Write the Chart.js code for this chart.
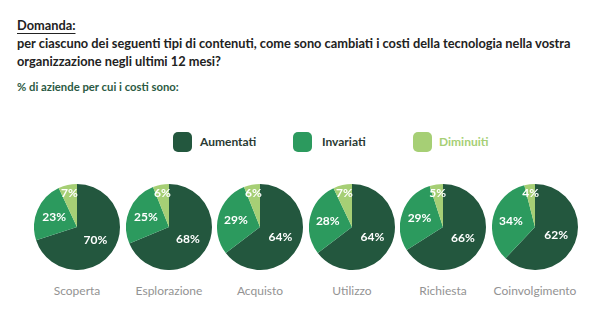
<!DOCTYPE html>
<html><head><meta charset="utf-8">
<script src="https://cdn.jsdelivr.net/npm/chart.js@4/dist/chart.umd.min.js"></script>
<style>
html,body{margin:0;padding:0;background:#fff;}
#wrap{position:relative;width:600px;height:321px;overflow:hidden;font-family:Lato,"Open Sans",sans-serif;}
.t{position:absolute;white-space:nowrap;}
.pie{position:absolute;width:86px;height:86px;}
.cat{position:absolute;width:120px;text-align:center;color:#939393;font-size:12px;}
.sq{position:absolute;width:19px;height:20px;border-radius:5px;}
.lg{position:absolute;font-size:12px;font-weight:700;}
</style></head><body>
<div id="wrap">
  <div class="t" style="left:17px;top:17px;font-size:12.8px;font-weight:700;color:#222;text-decoration:underline;text-underline-offset:3px;">Domanda:</div>
  <div class="t" style="left:17px;top:35px;font-size:12.8px;font-weight:700;color:#222;">per ciascuno dei seguenti tipi di contenuti, come sono cambiati i costi della tecnologia nella vostra</div>
  <div class="t" style="left:17px;top:53px;font-size:12.8px;font-weight:700;color:#222;">organizzazione negli ultimi 12 mesi?</div>
  <div class="t" style="left:17px;top:80px;font-size:11.3px;font-weight:700;color:#2b5a43;">% di aziende per cui i costi sono:</div>
</div>
<script>
const categories = ["Scoperta","Esplorazione","Acquisto","Utilizzo","Richiesta","Coinvolgimento"];
const seriesNames = ["Aumentati","Invariati","Diminuiti"];
const aumentati = [70,68,64,64,66,62];
const invariati = [23,25,29,28,29,34];
const diminuiti = [7,6,6,7,5,4];
const colors = ["#23573e","#2c9a5e","#a6cf75"];
const legendTextColors = ["#2a3a33","#2a3a33","#a6cf75"];

const wrap = document.getElementById('wrap');
const legendPos = [[173,200],[293,322],[413,439]];
seriesNames.forEach((n,i)=>{
  const s=document.createElement('div');s.className='sq';
  s.style.left=legendPos[i][0]+'px';s.style.top='132px';s.style.background=colors[i];
  wrap.appendChild(s);
  const l=document.createElement('div');l.className='lg';l.textContent=n;
  l.style.left=legendPos[i][1]+'px';l.style.top='134px';l.style.color=legendTextColors[i];
  wrap.appendChild(l);
});

const centersX=[77,169,260,352,443,535];
const centerY=227;
const radiusFactor=[0.53,0.58,0.8];

const labelPlugin={
  id:'pctLabels',
  afterDatasetsDraw(chart){
    const ctx=chart.ctx;
    const meta=chart.getDatasetMeta(0);
    ctx.save();
    ctx.font='bold 12px Lato, "Open Sans", sans-serif';
    ctx.fillStyle='#fff';
    ctx.textAlign='center';ctx.textBaseline='middle';
    meta.data.forEach((arc,i)=>{
      const p=arc.getProps(['x','y','startAngle','endAngle','outerRadius']);
      const a=(p.startAngle+p.endAngle)/2;
      const r=p.outerRadius*radiusFactor[i];
      ctx.fillText(chart.data.datasets[0].data[i]+'%',p.x+Math.cos(a)*r,p.y+Math.sin(a)*r);
    });
    ctx.restore();
  }
};

categories.forEach((cat,k)=>{
  const d=document.createElement('div');d.className='pie';
  d.style.left=(centersX[k]-43)+'px';d.style.top=(centerY-43)+'px';
  const c=document.createElement('canvas');d.appendChild(c);wrap.appendChild(d);
  const lab=document.createElement('div');lab.className='cat';lab.textContent=cat;
  lab.style.left=(centersX[k]-60)+'px';lab.style.top='283px';
  wrap.appendChild(lab);
  new Chart(c,{
    type:'pie',
    data:{labels:seriesNames,datasets:[{data:[aumentati[k],invariati[k],diminuiti[k]],backgroundColor:colors,borderWidth:0}]},
    options:{responsive:true,maintainAspectRatio:false,animation:false,
      layout:{padding:0},
      plugins:{legend:{display:false},tooltip:{enabled:false}}},
    plugins:[labelPlugin]
  });
});
</script>
</body></html>
